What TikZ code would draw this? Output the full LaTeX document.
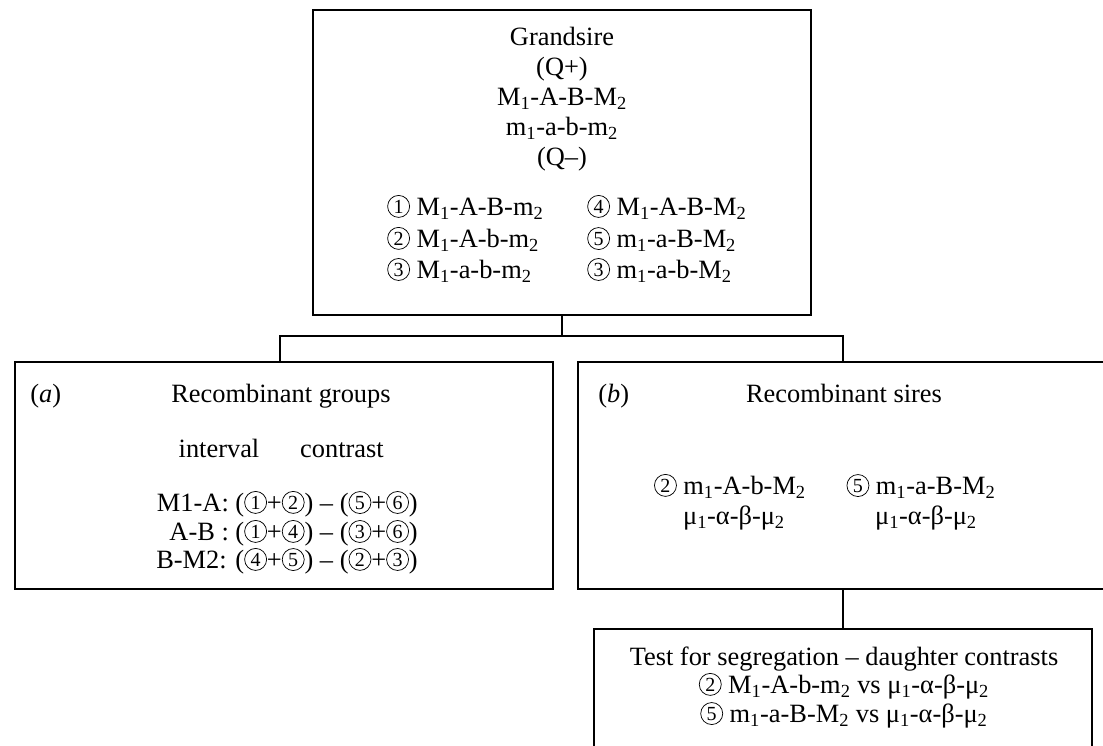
\documentclass[tikz,border=0pt]{standalone}
\usepackage{fontspec}
\setmainfont{Liberation Serif}
\usetikzlibrary{fit}
\newcommand{\cn}[1]{\tikz[x=1pt, y=1pt, baseline={([yshift=-1.5pt]cc.base)}]\node[circle, draw, line width=0.55pt, minimum size=16.5pt, inner sep=0pt, font=\fontsize{15}{15}\selectfont] (cc) at (0,0) {#1};}
\newcommand{\sbs}[1]{\textsubscript{#1}}
\begin{document}
\begin{tikzpicture}[x=0.75pt,y=-0.75pt,
  box/.style={draw, line width=1.7pt, inner sep=0pt},
  txt/.style={inner sep=0pt, font=\fontsize{19.8}{22}\selectfont},
  conn/.style={line width=1.7pt}]
\useasboundingbox (0,0) rectangle (1103,746);
\clip (0,0) rectangle (1103,746);

% boxes
\node[box, fit={(313,10) (811,315)}] (gs) {};
\node[box, fit={(15,362) (553,589)}] (ra) {};
\node[box, fit={(578,362) (1115,589)}] (rb) {};
\node[box, fit={(594,629) (1092,790)}] (ts) {};

% connectors
\coordinate (jl) at (280,336);
\coordinate (jr) at (843,336);
\draw[conn] (gs.south) -- (gs.south |- jl);
\draw[conn, line join=miter] (jl |- ra.north) -- (jl) -- (jr) -- (jr |- rb.north);
\draw[conn] (rb.south -| jr) -- (jr |- ts.north);

% grandsire box
\node[txt, anchor=base] (g1) at (562,45) {Grandsire};
\node[txt, anchor=base] (g2) at (562,75) {(Q+)};
\node[txt, anchor=base] (g3) at (562,105) {M\sbs{1}-A-B-M\sbs{2}};
\node[txt, anchor=base] (g4) at (562,135) {m\sbs{1}-a-b-m\sbs{2}};
\node[txt, anchor=base] (g5) at (562,165) {(Q–)};
\node[txt, anchor=base west] (l1) at (387,215) {\cn{1} M\sbs{1}-A-B-m\sbs{2}};
\node[txt, anchor=base west] (l2) at (387,247) {\cn{2} M\sbs{1}-A-b-m\sbs{2}};
\node[txt, anchor=base west] (l3) at (387,278) {\cn{3} M\sbs{1}-a-b-m\sbs{2}};
\node[txt, anchor=base west] (r1) at (587,215) {\cn{4} M\sbs{1}-A-B-M\sbs{2}};
\node[txt, anchor=base west] (r2) at (587,247) {\cn{5} m\sbs{1}-a-B-M\sbs{2}};
\node[txt, anchor=base west] (r3) at (587,278) {\cn{3} m\sbs{1}-a-b-M\sbs{2}};

% box (a)
\node[txt, anchor=base west] (la) at (30,402) {(\textit{a})};
\node[txt, anchor=base] (ta) at (281,402) {Recombinant groups};
\node[txt, anchor=base] (hi) at (219,457) {interval};
\node[txt, anchor=base] (hc) at (342,457) {contrast};
\node[txt, anchor=base east] (a1) at (418,511) {M1-A: (\cn{1}+\cn{2}) – (\cn{5}+\cn{6})};
\node[txt, anchor=base east] (a2) at (418,540) {A-B : (\cn{1}+\cn{4}) – (\cn{3}+\cn{6})};
\node[txt, anchor=base east] (a3) at (418,568) {B-M2: (\cn{4}+\cn{5}) – (\cn{2}+\cn{3})};

% box (b)
\node[txt, anchor=base west] (lb) at (598,402) {(\textit{b})};
\node[txt, anchor=base] (tb) at (844,402) {Recombinant sires};
\node[txt, anchor=base] (b1) at (730,494) {\cn{2} m\sbs{1}-A-b-M\sbs{2}};
\node[txt, anchor=base] (b2) at (734,524) {μ\sbs{1}-α-β-μ\sbs{2}};
\node[txt, anchor=base] (b3) at (921,494) {\cn{5} m\sbs{1}-a-B-M\sbs{2}};
\node[txt, anchor=base] (b4) at (926,524) {μ\sbs{1}-α-β-μ\sbs{2}};

% test box
\node[txt, anchor=base] (t1) at (844,665) {Test for segregation – daughter contrasts};
\node[txt, anchor=base] (t2) at (844,693) {\cn{2} M\sbs{1}-A-b-m\sbs{2} vs μ\sbs{1}-α-β-μ\sbs{2}};
\node[txt, anchor=base] (t3) at (844,722) {\cn{5} m\sbs{1}-a-B-M\sbs{2} vs μ\sbs{1}-α-β-μ\sbs{2}};
\end{tikzpicture}
\end{document}
